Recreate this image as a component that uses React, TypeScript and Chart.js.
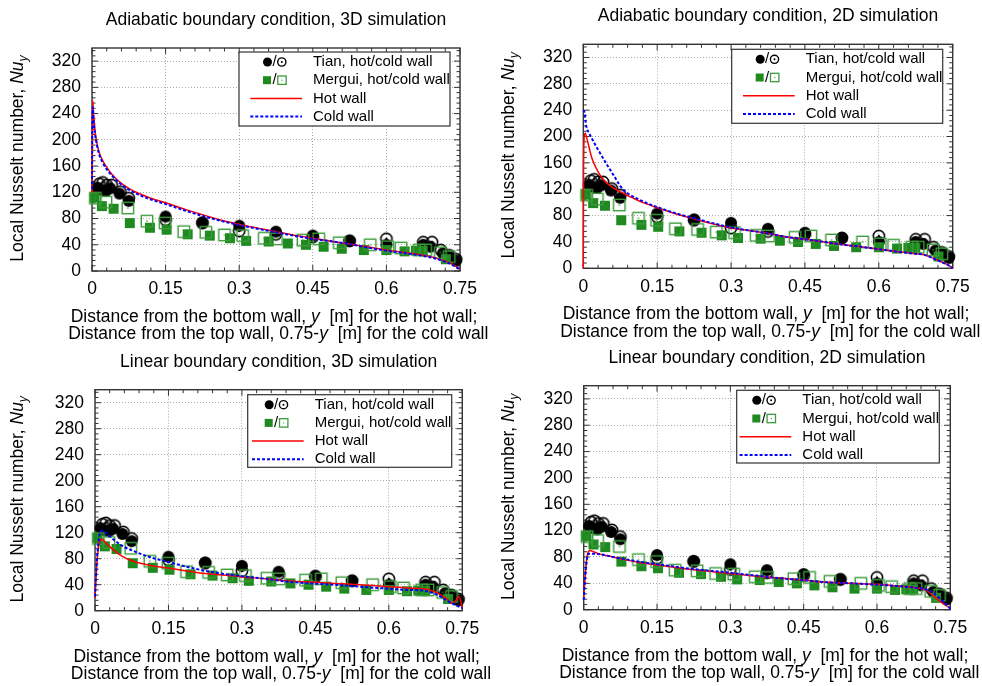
import React, { useEffect, useRef } from 'react';
import { Chart, registerables } from 'chart.js';
Chart.register(...registerables);

const FONT = '"Liberation Sans", Arial, Helvetica, sans-serif';

// ---------- tick labels ----------
const xTickValues = [0, 0.15, 0.3, 0.45, 0.6, 0.75];
const xTickLabels = ['0', '0.15', '0.3', '0.45', '0.6', '0.75'];
const yTickValues = [0, 40, 80, 120, 160, 200, 240, 280, 320];
const yTickLabels = ['0', '40', '80', '120', '160', '200', '240', '280', '320'];

// ---------- experimental data (same in every panel) ----------
const tianHotX = [0.011, 0.019, 0.028, 0.037, 0.056, 0.075, 0.15, 0.225, 0.3, 0.375, 0.45, 0.525, 0.6, 0.675, 0.69, 0.715, 0.728, 0.742];
const tianHotY = [127, 124, 122, 126, 118, 107, 83, 74, 69, 60, 54, 46, 40, 40, 37, 27, 22, 16];
const tianColdX = [0.015, 0.022, 0.03, 0.04, 0.058, 0.075, 0.15, 0.225, 0.3, 0.375, 0.45, 0.525, 0.6, 0.675, 0.693, 0.711, 0.728, 0.742];
const tianColdY = [133, 135, 131, 131, 121, 111, 78, 73, 61, 56, 52, 46, 49, 44, 44, 32, 24, 18];
const merguiHotX = [0.005, 0.02, 0.044, 0.077, 0.118, 0.152, 0.195, 0.24, 0.281, 0.314, 0.36, 0.399, 0.436, 0.472, 0.509, 0.554, 0.6, 0.637, 0.66, 0.674, 0.721];
const merguiHotY = [112, 99, 95, 73, 66, 63, 56, 54, 50, 46, 45, 42, 40, 37, 34, 32, 32, 30, 31, 31, 18];
const merguiColdX = [0.007, 0.0285, 0.073, 0.112, 0.149, 0.187, 0.232, 0.27, 0.307, 0.351, 0.376, 0.43, 0.462, 0.504, 0.567, 0.603, 0.63, 0.667, 0.68, 0.71, 0.728];
const merguiColdY = [111, 105, 96, 76, 73, 60, 59, 55, 54, 50, 49, 47, 49, 43, 40, 37, 35, 32, 32, 28, 22];

// ---------- simulation curves ----------
// Adiabatic, 3D
const adi3dHotX = [0, 0.0005, 0.0015, 0.003, 0.006, 0.01, 0.015, 0.022, 0.03, 0.04, 0.056, 0.075, 0.09, 0.12, 0.15, 0.19, 0.225, 0.26, 0.3, 0.34, 0.375, 0.41, 0.45, 0.49, 0.525, 0.56, 0.6, 0.64, 0.675, 0.7, 0.72, 0.735, 0.75];
const adi3dHotY = [120, 200, 260, 240, 215, 195, 180, 168, 158, 148, 136, 126, 120, 111, 104, 94, 86, 78, 71, 65, 60, 55, 50, 45, 41, 37, 32, 28, 24, 20, 15, 10, 3];
const adi3dColdX = [0, 0.0005, 0.0015, 0.003, 0.006, 0.01, 0.015, 0.022, 0.03, 0.04, 0.056, 0.075, 0.09, 0.12, 0.15, 0.19, 0.225, 0.26, 0.3, 0.34, 0.375, 0.41, 0.45, 0.49, 0.525, 0.56, 0.6, 0.64, 0.675, 0.7, 0.72, 0.735, 0.75];
const adi3dColdY = [125, 200, 250, 232, 210, 192, 177, 165, 155, 146, 134, 124, 118, 109, 102, 92, 84, 77, 70, 64, 59, 54, 49, 45, 41, 36, 31, 27, 23, 19, 14, 9, 2];
// Adiabatic, 2D
const adi2dHotX = [0, 0.0005, 0.002, 0.004, 0.008, 0.0156, 0.02, 0.029, 0.041, 0.05, 0.061, 0.075, 0.097, 0.12, 0.15, 0.19, 0.225, 0.26, 0.3, 0.34, 0.375, 0.41, 0.45, 0.49, 0.525, 0.56, 0.6, 0.64, 0.675, 0.69, 0.705, 0.72, 0.735, 0.75];
const adi2dHotY = [0, 150, 200, 205, 195, 172, 162, 148, 134, 128, 122, 116, 108, 100, 92, 82, 75, 68, 61, 57, 53, 48, 44, 40, 36, 33, 29, 25, 22, 21, 17, 12, 7, 1];
const adi2dColdX = [0, 0.002, 0.006, 0.012, 0.03, 0.05, 0.065, 0.076, 0.09, 0.12, 0.15, 0.19, 0.225, 0.26, 0.3, 0.34, 0.375, 0.41, 0.45, 0.49, 0.525, 0.56, 0.6, 0.64, 0.675, 0.69, 0.705, 0.72, 0.735, 0.75];
const adi2dColdY = [240, 238, 216, 205, 180, 155, 137, 124, 114, 102, 93, 83, 76, 69, 62, 57, 53, 48, 44, 40, 36, 33, 29, 25, 22, 21, 17, 12, 7, 1];
// Linear, 3D
const lin3dHotX = [0, 0.004, 0.009, 0.0136, 0.02, 0.037, 0.055, 0.078, 0.11, 0.146, 0.18, 0.214, 0.26, 0.3, 0.35, 0.39, 0.44, 0.49, 0.54, 0.6, 0.64, 0.684, 0.7, 0.711, 0.72, 0.73, 0.737, 0.743, 0.75];
const lin3dHotY = [20, 75, 105, 110, 106, 94, 84, 76, 70, 66, 62, 58, 55, 52, 49, 46, 44, 42, 40, 37, 35, 32, 27, 22, 17, 11, 16, 22, 5];
const lin3dColdX = [0, 0.004, 0.009, 0.0136, 0.02, 0.037, 0.055, 0.078, 0.11, 0.144, 0.18, 0.214, 0.26, 0.3, 0.35, 0.39, 0.44, 0.487, 0.54, 0.596, 0.64, 0.67, 0.69, 0.705, 0.72, 0.735, 0.75];
const lin3dColdY = [22, 80, 115, 123, 121, 110, 100, 92, 83, 76, 69, 63, 57, 53, 49, 45, 42, 40, 37, 34, 32, 31, 27, 22, 15, 9, 4];
// Linear, 2D
const lin2dHotX = [0, 0.004, 0.008, 0.013, 0.02, 0.035, 0.06, 0.083, 0.12, 0.151, 0.19, 0.22, 0.26, 0.3, 0.35, 0.397, 0.45, 0.49, 0.55, 0.6, 0.64, 0.683, 0.7, 0.715, 0.725, 0.74, 0.75];
const lin2dHotY = [18, 60, 85, 90, 88, 84, 80, 76, 71, 68, 64, 61, 58, 55, 51, 48, 45, 42, 40, 38.5, 36, 33, 30, 21, 15, 7, 2.5];
const lin2dColdX = [0, 0.004, 0.01, 0.02, 0.035, 0.06, 0.083, 0.12, 0.151, 0.19, 0.22, 0.26, 0.3, 0.35, 0.397, 0.45, 0.49, 0.55, 0.6, 0.64, 0.683, 0.7, 0.716, 0.73, 0.74, 0.75];
const lin2dColdY = [15, 60, 85, 85, 84, 80, 77, 72, 69, 65, 62, 59, 56, 52, 48, 45, 42, 40, 38, 36, 33, 31, 25, 16, 9, 1.5];

// ---------- texts ----------
const titles = [
  'Adiabatic boundary condition, 3D simulation',
  'Adiabatic boundary condition, 2D simulation',
  'Linear boundary condition, 3D simulation',
  'Linear boundary condition, 2D simulation',
];
const legendLabels = ['Tian, hot/cold wall', 'Mergui, hot/cold wall', 'Hot wall', 'Cold wall'];
const yLabelMain = 'Local Nusselt number, ';
const yLabelNu = 'Nu';
const yLabelSub = 'y';
const xLabel1 = ['Distance from the bottom wall, ', 'y', '  [m] for the hot wall;'];
const xLabel2 = ['Distance from the top wall, 0.75-', 'y', '  [m] for the cold wall'];

// ---------- layout (positions only) ----------
const W = 491;
const H = 343;
const FS = 17.5;
type Area = { l: number; r: number; t: number; b: number };
type Box = { x1: number; y1: number; x2: number; y2: number };
type PanelCfg = {
  left: number; top: number; title: string; area: Area; legend: Box;
  hotX: number[]; hotY: number[]; coldX: number[]; coldY: number[];
};
const panels: PanelCfg[] = [
  { left: 0, top: 0, title: titles[0], area: { l: 92, r: 460, t: 48, b: 271 }, legend: { x1: 239, y1: 52, x2: 450, y2: 126 }, hotX: adi3dHotX, hotY: adi3dHotY, coldX: adi3dColdX, coldY: adi3dColdY },
  { left: 491, top: 0, title: titles[1], area: { l: 92.3, r: 461.7, t: 44.3, b: 268.3 }, legend: { x1: 240.7, y1: 49.3, x2: 451.7, y2: 123.3 }, hotX: adi2dHotX, hotY: adi2dHotY, coldX: adi2dColdX, coldY: adi2dColdY },
  { left: 0, top: 343, title: titles[2], area: { l: 95, r: 462.3, t: 46.7, b: 267.7 }, legend: { x1: 247.7, y1: 51.7, x2: 451.7, y2: 124.3 }, hotX: lin3dHotX, hotY: lin3dHotY, coldX: lin3dColdX, coldY: lin3dColdY },
  { left: 491, top: 343, title: titles[3], area: { l: 92.7, r: 459.3, t: 42.7, b: 266.7 }, legend: { x1: 245.7, y1: 47.3, x2: 448.3, y2: 120 }, hotX: lin2dHotX, hotY: lin2dHotY, coldX: lin2dColdX, coldY: lin2dColdY },
];

const GREEN = '#1f8a1f';
const GREEN_OPEN = '#3c9c3c';
const RED = '#ff0000';
const BLUE = '#0000ff';
const FRAME = '#333333';

const markerCache: Record<string, HTMLCanvasElement> = {};
function marker(kind: string): HTMLCanvasElement {
  if (markerCache[kind]) return markerCache[kind];
  const c = document.createElement('canvas');
  const s = 18;
  c.width = s;
  c.height = s;
  const g = c.getContext('2d')!;
  const m = s / 2;
  if (kind === 'tianHot') {
    g.fillStyle = '#000';
    g.beginPath();
    g.arc(m, m, 6, 0, Math.PI * 2);
    g.fill();
  } else if (kind === 'tianCold') {
    g.strokeStyle = '#000';
    g.lineWidth = 1.6;
    g.beginPath();
    g.arc(m, m, 5.6, 0, Math.PI * 2);
    g.stroke();
    g.fillStyle = '#000';
    g.beginPath();
    g.arc(m, m, 1.2, 0, Math.PI * 2);
    g.fill();
  } else if (kind === 'merguiHot') {
    g.fillStyle = GREEN;
    g.fillRect(m - 5, m - 5, 10, 10);
  } else {
    g.strokeStyle = GREEN_OPEN;
    g.lineWidth = 1.4;
    g.strokeRect(m - 5.7, m - 5.7, 11.4, 11.4);
    g.fillStyle = GREEN_OPEN;
    g.fillRect(m - 0.7, m - 0.7, 1.4, 1.4);
  }
  markerCache[kind] = c;
  return c;
}

function pts(xs: number[], ys: number[]) {
  return xs.map((x, i) => ({ x, y: ys[i] }));
}

function panelPlugin(p: PanelCfg) {
  return {
    id: 'panelDeco',
    beforeDatasetsDraw(chart: any) {
      const ctx = chart.ctx as CanvasRenderingContext2D;
      const a = chart.chartArea;
      const xs = chart.scales.x;
      const ys = chart.scales.y;
      ctx.save();
      ctx.strokeStyle = FRAME;
      ctx.lineWidth = 1;
      ctx.beginPath();
      for (let k = 0; k <= 25; k++) {
        const v = k * 0.03;
        const px = xs.getPixelForValue(v);
        const len = k % 5 === 0 ? 6 : 3.5;
        ctx.moveTo(px, a.bottom);
        ctx.lineTo(px, a.bottom - len);
        ctx.moveTo(px, a.top);
        ctx.lineTo(px, a.top + len);
      }
      for (let k = 0; k <= 42; k++) {
        const v = k * 8;
        const py = ys.getPixelForValue(v);
        const len = k % 5 === 0 ? 6 : 3.5;
        ctx.moveTo(a.left, py);
        ctx.lineTo(a.left + len, py);
        ctx.moveTo(a.right, py);
        ctx.lineTo(a.right - len, py);
      }
      ctx.stroke();
      ctx.lineWidth = 1.4;
      ctx.strokeRect(a.left, a.top, a.right - a.left, a.bottom - a.top);
      ctx.restore();
    },
    afterDraw(chart: any) {
      const ctx = chart.ctx as CanvasRenderingContext2D;
      const a = chart.chartArea;
      const cx = (a.left + a.right) / 2;
      ctx.save();
      ctx.fillStyle = '#000';
      ctx.textBaseline = 'middle';
      ctx.font = `${FS}px ${FONT}`;
      ctx.textAlign = 'center';
      ctx.fillText(p.title, cx, a.top - 28);
      const drawMixed = (parts: string[], centerX: number, y: number) => {
        const fN = `${FS}px ${FONT}`;
        const fI = `italic ${FS}px ${FONT}`;
        ctx.font = fN;
        const w0 = ctx.measureText(parts[0]).width;
        const w2 = ctx.measureText(parts[2]).width;
        ctx.font = fI;
        const w1 = ctx.measureText(parts[1]).width;
        let x = centerX - (w0 + w1 + w2) / 2;
        ctx.textAlign = 'left';
        ctx.font = fN;
        ctx.fillText(parts[0], x, y);
        x += w0;
        ctx.font = fI;
        ctx.fillText(parts[1], x, y);
        x += w1;
        ctx.font = fN;
        ctx.fillText(parts[2], x, y);
      };
      drawMixed(xLabel1, cx - 2, a.bottom + 46);
      drawMixed(xLabel2, cx + 2.3, a.bottom + 63.5);
      ctx.save();
      ctx.translate(18.5, (a.top + a.bottom) / 2 - 1);
      ctx.rotate(-Math.PI / 2);
      ctx.font = `${FS}px ${FONT}`;
      const wm = ctx.measureText(yLabelMain).width;
      ctx.font = `italic ${FS}px ${FONT}`;
      const wn = ctx.measureText(yLabelNu).width;
      ctx.font = `italic 12.5px ${FONT}`;
      const ws = ctx.measureText(yLabelSub).width;
      let x = -(wm + wn + ws) / 2;
      ctx.textAlign = 'left';
      ctx.font = `${FS}px ${FONT}`;
      ctx.fillText(yLabelMain, x, 0);
      x += wm;
      ctx.font = `italic ${FS}px ${FONT}`;
      ctx.fillText(yLabelNu, x, 0);
      x += wn;
      ctx.font = `italic 12.5px ${FONT}`;
      ctx.fillText(yLabelSub, x, 5);
      ctx.restore();
      // legend
      const L = p.legend;
      ctx.fillStyle = '#fff';
      ctx.fillRect(L.x1, L.y1, L.x2 - L.x1, L.y2 - L.y1);
      ctx.strokeStyle = FRAME;
      ctx.lineWidth = 1.2;
      ctx.strokeRect(L.x1, L.y1, L.x2 - L.x1, L.y2 - L.y1);
      const textX = L.x2 - 137;
      const slashX = textX - 39.5;
      ctx.font = `15px ${FONT}`;
      ctx.textAlign = 'left';
      for (let i = 0; i < 4; i++) {
        const ry = L.y1 + 10 + i * 18.2;
        ctx.fillStyle = '#000';
        ctx.fillText(legendLabels[i], textX, ry);
        if (i === 0) {
          ctx.beginPath();
          ctx.arc(slashX - 6, ry, 4.5, 0, Math.PI * 2);
          ctx.fill();
          ctx.textAlign = 'center';
          ctx.fillText('/', slashX + 1, ry);
          ctx.textAlign = 'left';
          ctx.strokeStyle = '#000';
          ctx.lineWidth = 1.4;
          ctx.beginPath();
          ctx.arc(slashX + 8.3, ry, 4.1, 0, Math.PI * 2);
          ctx.stroke();
          ctx.beginPath();
          ctx.arc(slashX + 8.3, ry, 1, 0, Math.PI * 2);
          ctx.fill();
        } else if (i === 1) {
          ctx.fillStyle = GREEN;
          ctx.fillRect(slashX - 10.5, ry - 4, 8, 8);
          ctx.fillStyle = '#000';
          ctx.textAlign = 'center';
          ctx.fillText('/', slashX + 1, ry);
          ctx.textAlign = 'left';
          ctx.strokeStyle = GREEN_OPEN;
          ctx.lineWidth = 1.3;
          ctx.strokeRect(slashX + 4.3, ry - 4.2, 8.4, 8.4);
          ctx.fillStyle = GREEN_OPEN;
          ctx.fillRect(slashX + 8, ry - 0.5, 1.1, 1.1);
        } else {
          ctx.beginPath();
          ctx.strokeStyle = i === 2 ? RED : BLUE;
          ctx.lineWidth = i === 2 ? 1.5 : 2;
          ctx.setLineDash(i === 2 ? [] : [3, 2]);
          ctx.moveTo(textX - 62.7, ry);
          ctx.lineTo(textX - 11, ry);
          ctx.stroke();
          ctx.setLineDash([]);
        }
      }
      ctx.restore();
    },
  };
}

function makeConfig(p: PanelCfg): any {
  const a = p.area;
  return {
    type: 'scatter',
    data: {
      datasets: [
        { label: 'Cold wall', data: pts(p.coldX, p.coldY), showLine: true, borderColor: BLUE, borderWidth: 2, borderDash: [3, 2], pointRadius: 0, cubicInterpolationMode: 'monotone', clip: false },
        { label: 'Hot wall', data: pts(p.hotX, p.hotY), showLine: true, borderColor: RED, borderWidth: 1.5, pointRadius: 0, cubicInterpolationMode: 'monotone', clip: false },
        { label: 'Mergui cold', data: pts(merguiColdX, merguiColdY), pointStyle: marker('merguiCold'), pointRadius: 6, clip: false },
        { label: 'Mergui hot', data: pts(merguiHotX, merguiHotY), pointStyle: marker('merguiHot'), pointRadius: 6, clip: false },
        { label: 'Tian cold', data: pts(tianColdX, tianColdY), pointStyle: marker('tianCold'), pointRadius: 6, clip: false },
        { label: 'Tian hot', data: pts(tianHotX, tianHotY), pointStyle: marker('tianHot'), pointRadius: 6, clip: false },
      ],
    },
    options: {
      animation: false,
      responsive: false,
      events: [],
      layout: { padding: { top: a.t, right: W - a.r, bottom: 0, left: 0 } },
      plugins: { legend: { display: false }, tooltip: { enabled: false }, title: { display: false } },
      scales: {
        x: {
          type: 'linear',
          min: 0,
          max: 0.75,
          afterBuildTicks: (s: any) => { s.ticks = xTickValues.map((v) => ({ value: v })); },
          ticks: { callback: (_v: any, i: number) => xTickLabels[i], font: { size: FS, family: FONT }, color: '#000', padding: 8, maxRotation: 0, autoSkip: false },
          grid: { color: '#aaaaaa', lineWidth: 1, drawTicks: false },
          border: { display: false, dash: [1, 2] },
          afterFit: (s: any) => { s.height = H - a.b; s.paddingLeft = 0; s.paddingRight = 0; },
        },
        y: {
          type: 'linear',
          min: 0,
          max: 340,
          afterBuildTicks: (s: any) => { s.ticks = yTickValues.map((v) => ({ value: v })); },
          ticks: { callback: (_v: any, i: number) => yTickLabels[i], font: { size: FS, family: FONT }, color: '#000', padding: 11, autoSkip: false },
          grid: { color: '#aaaaaa', lineWidth: 1, drawTicks: false },
          border: { display: false, dash: [1, 2] },
          afterFit: (s: any) => { s.width = a.l; s.paddingTop = 0; s.paddingBottom = 0; },
        },
      },
    },
    plugins: [panelPlugin(p)],
  };
}

function Panel({ p }: { p: PanelCfg }) {
  const ref = useRef<HTMLCanvasElement>(null);
  useEffect(() => {
    const chart = new Chart(ref.current!, makeConfig(p));
    return () => chart.destroy();
  }, []);
  return (
    <canvas
      ref={ref}
      width={W}
      height={H}
      style={{ position: 'absolute', left: p.left, top: p.top, width: W, height: H }}
    />
  );
}

export default function App() {
  return (
    <div style={{ position: 'absolute', left: 0, top: 0, width: 982, height: 686, background: '#fff', overflow: 'hidden' }}>
      {panels.map((p, i) => (
        <Panel key={i} p={p} />
      ))}
    </div>
  );
}
